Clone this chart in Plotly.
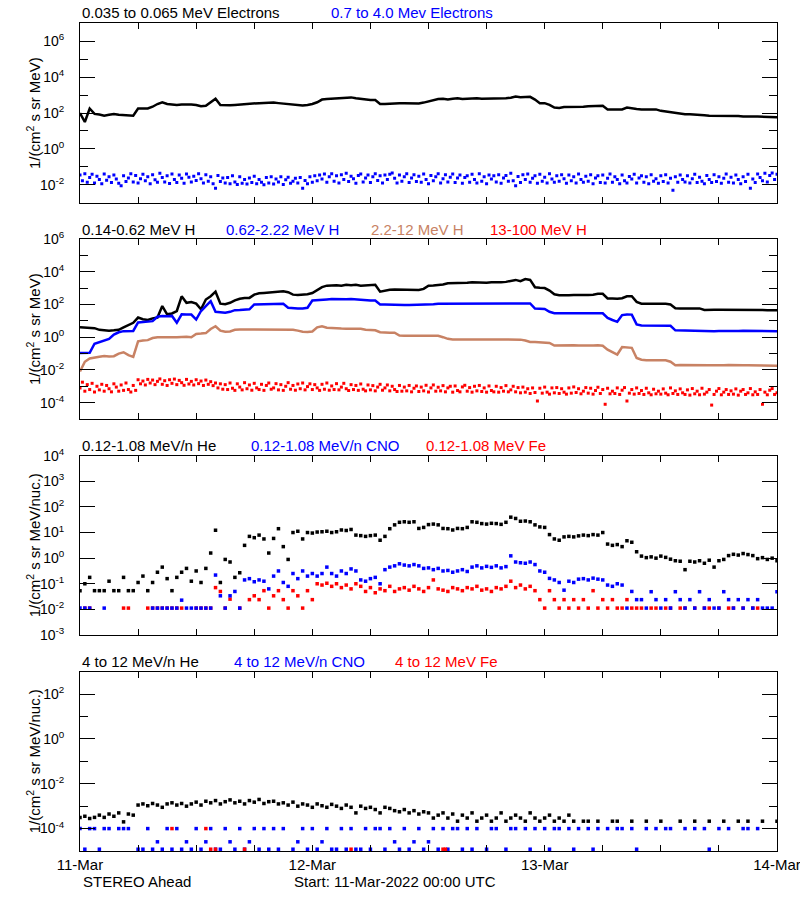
import plotly.graph_objects as go

# ---- time base (hours after 11-Mar-2022 00:00 UTC) ----
hours = [i * 0.5 for i in range(145)]          # 30-minute samples
hours_15 = [i * 0.25 for i in range(289)]      # 15-minute samples
day_hours = [0, 24, 48, 72]
day_labels = ["11-Mar", "12-Mar", "13-Mar", "14-Mar"]

# ---- values, given as log10 of the flux ----
# Panel 1: electrons
e_low_log = [2.0, 1.5, 2.25, 1.95, 1.92, 1.85, 1.9, 1.95, 1.9, 1.88,
             1.85, 1.85, 2.25, 2.27, 2.25, 2.35, 2.5, 2.6, 2.5, 2.48,
             2.45, 2.47, 2.48, 2.48, 2.45, 2.38, 2.4, 2.6, 2.8, 2.45,
             2.43, 2.43, 2.45, 2.47, 2.53, 2.55, 2.55, 2.55, 2.56, 2.58,
             2.58, 2.55, 2.53, 2.5, 2.48, 2.45, 2.42, 2.45, 2.5, 2.6,
             2.75, 2.78, 2.8, 2.82, 2.83, 2.85, 2.87, 2.82, 2.78, 2.75,
             2.73, 2.72, 2.5, 2.5, 2.53, 2.55, 2.55, 2.55, 2.55, 2.55,
             2.53, 2.58, 2.65, 2.72, 2.78, 2.8, 2.75, 2.8, 2.82, 2.78,
             2.8, 2.82, 2.82, 2.8, 2.8, 2.82, 2.8, 2.78, 2.82, 2.85,
             2.92, 2.88, 2.88, 2.9, 2.75, 2.55, 2.55, 2.45, 2.3, 2.28,
             2.33, 2.33, 2.35, 2.33, 2.35, 2.38, 2.38, 2.4, 2.4, 2.2,
             2.2, 2.22, 2.2, 2.3, 2.25, 2.22, 2.2, 2.2, 2.22, 2.2,
             2.12, 2.08, 2.05, 2.0, 1.93, 1.93, 1.93, 1.92, 1.92, 1.88,
             1.85, 1.85, 1.82, 1.82, 1.83, 1.82, 1.83, 1.8, 1.82, 1.8,
             1.8, 1.8, 1.8, 1.78, 1.76]
e_high_log = [-1.45, -1.78, -1.38, -1.86, -1.6, -1.42, -1.9, -1.52, -1.7, -1.94,
              -1.4, -1.75, -1.55, -1.88, -1.46, -1.68, -1.92, -2.05, -1.5, -1.82,
              -1.62, -1.38, -1.85, -1.48, -1.9, -1.66, -1.42, -1.78, -1.56, -1.95,
              -1.44, -1.72, -1.86, -1.36, -1.6, -1.84, -1.5, -1.93, -1.4, -1.7,
              -1.88, -1.46, -1.64, -1.92, -1.4, -1.58, -1.85, -1.52, -1.76, -1.38,
              -1.66, -1.9, -1.44, -1.8, -1.56, -1.94, -2.2, -1.48, -1.82, -1.62,
              -1.9, -1.6, -1.95, -1.5, -1.84, -1.98, -1.56, -1.92, -1.7, -1.96,
              -1.62, -1.88, -1.52, -1.94, -1.7, -1.86, -2.0, -1.6, -1.9, -1.55,
              -1.96, -1.68, -1.84, -1.56, -1.98, -1.72, -1.58, -1.92, -1.8, -1.64,
              -1.9, -1.6, -2.2, -1.76, -1.94, -1.55, -1.86, -1.5, -1.78, -1.46,
              -1.68, -1.4, -1.86, -1.55, -1.38, -1.8, -1.5, -1.9, -1.44, -1.7,
              -1.36, -1.82, -1.52, -1.66, -1.92, -1.48, -1.4, -1.85, -1.62, -1.45,
              -1.88, -1.55, -1.38, -1.76, -1.5, -1.9, -1.46, -1.7, -1.42, -1.35,
              -1.64, -1.9, -1.46, -1.8, -1.55, -1.38, -1.88, -1.62, -1.44, -1.82,
              -1.52, -1.86, -1.4, -1.7, -1.94, -1.48, -1.78, -1.56, -1.38, -1.9,
              -1.66, -1.44, -1.84, -1.58, -1.4, -1.88, -1.62, -1.46, -1.92, -1.6,
              -1.5, -1.86, -1.42, -1.7, -1.9, -1.38, -1.8, -1.55, -1.94, -1.46,
              -1.68, -1.5, -1.84, -1.44, -1.92, -1.62, -1.48, -1.8, -1.36, -1.78,
              -2.05, -1.54, -1.88, -1.44, -1.7, -1.4, -1.86, -1.64, -1.5, -1.92,
              -1.42, -1.8, -1.58, -1.9, -1.38, -1.68, -1.86, -1.5, -1.8, -1.44,
              -1.66, -1.92, -1.46, -1.78, -1.55, -1.9, -1.4, -1.7, -1.86, -1.52,
              -1.8, -1.44, -1.94, -1.62, -1.5, -1.88, -1.46, -1.9, -1.64, -1.4,
              -1.86, -1.56, -1.7, -1.94, -1.46, -1.78, -1.9, -1.54, -1.68, -1.42,
              -1.9, -1.62, -1.5, -1.86, -1.56, -1.94, -1.44, -1.8, -1.66, -1.92,
              -1.5, -1.82, -1.44, -1.9, -1.64, -2.3, -1.55, -1.86, -1.46, -1.7,
              -1.84, -1.5, -1.9, -1.66, -1.42, -1.88, -1.58, -1.8, -1.94, -1.48,
              -1.7, -1.88, -1.44, -1.82, -1.56, -1.92, -1.64, -1.4, -1.86, -1.58,
              -1.9, -1.46, -1.7, -1.94, -1.55, -1.82, -1.42, -2.2, -1.68, -1.88,
              -1.4, -1.6, -1.78, -1.36, -1.84, -1.48, -1.34, -1.7, -1.42]

# Panel 2: protons
h_014_log = [0.6, 0.57, 0.57, 0.55, 0.45, 0.41, 0.4, 0.42, 0.45, 0.6,
             0.75, 0.88, 1.2, 1.1, 1.05, 1.15, 1.2, 1.9, 1.4, 1.45,
             1.6, 2.5, 2.1, 2.15, 2.05, 1.7, 2.3, 2.5, 2.78, 2.05,
             2.02, 2.1, 2.25, 2.35, 2.4, 2.4, 2.6, 2.68, 2.7, 2.72,
             2.75, 2.8, 2.8, 2.75, 2.6, 2.58, 2.6, 2.62, 2.7, 2.9,
             3.06, 3.15, 3.18, 3.18, 3.15, 3.2, 3.18, 3.2, 3.15, 3.18,
             3.2, 3.2, 2.78, 2.85, 2.9, 2.92, 2.92, 2.92, 2.92, 2.92,
             2.88, 2.95, 3.15, 3.16, 3.18, 3.22, 3.3, 3.3, 3.32, 3.33,
             3.33, 3.35, 3.33, 3.35, 3.33, 3.35, 3.33, 3.35, 3.38, 3.45,
             3.5, 3.42, 3.55, 3.5, 3.05, 3.02, 3.0, 2.85, 2.62, 2.57,
             2.55, 2.57, 2.58, 2.57, 2.6, 2.58, 2.6, 2.65, 2.65, 2.37,
             2.37, 2.35, 2.38, 2.5, 2.5, 2.16, 2.05, 2.05, 2.04, 2.04,
             2.03, 2.04, 2.0, 1.77, 1.76, 1.76, 1.76, 1.75, 1.76, 1.66,
             1.65, 1.67, 1.68, 1.68, 1.7, 1.7, 1.68, 1.7, 1.68, 1.67,
             1.66, 1.66, 1.65, 1.65, 1.65]
h_062_log = [-0.96, -0.95, -0.95, -0.4, -0.3, -0.2, -0.1, 0.16, 0.3, 0.37,
             0.37, 0.38, 0.9, 0.92, 0.95, 0.98, 1.25, 1.3, 1.28, 1.3,
             0.88, 1.4, 1.39, 1.38, 1.08, 1.6, 1.9, 2.2, 1.55, 1.52,
             1.5, 1.55, 1.65, 1.66, 1.68, 1.7, 2.0, 2.0, 2.02, 2.0,
             2.02, 2.04, 2.04, 1.8, 1.76, 1.75, 1.76, 1.8, 2.24, 2.25,
             2.3, 2.31, 2.33, 2.32, 2.33, 2.32, 2.34, 2.31, 2.3, 2.25,
             2.24, 2.24, 2.0, 2.0, 1.98, 1.96, 1.96, 1.96, 1.96, 1.97,
             1.96, 1.96, 1.98, 2.02, 2.04, 2.04, 2.06, 2.04, 2.05, 2.04,
             2.05, 2.04, 2.04, 2.03, 2.04, 2.02, 2.04, 2.05, 2.04, 2.06,
             2.04, 2.05, 2.05, 2.06, 1.75, 1.72, 1.72, 1.55, 1.47, 1.47,
             1.46, 1.47, 1.48, 1.47, 1.47, 1.48, 1.47, 1.47, 1.46, 1.18,
             1.05, 0.94, 1.35, 1.39, 1.38, 0.78, 0.72, 0.71, 0.71, 0.71,
             0.72, 0.71, 0.7, 0.42, 0.41, 0.41, 0.41, 0.4, 0.41, 0.38,
             0.37, 0.37, 0.38, 0.37, 0.38, 0.39, 0.38, 0.39, 0.38, 0.38,
             0.38, 0.37, 0.37, 0.37, 0.36]
h_22_log = [-2.1, -1.5, -1.3, -1.27, -1.2, -1.15, -1.18, -1.16, -1.0, -0.92,
            -1.1, -1.2, -0.25, -0.2, -0.18, -0.05, 0.0, 0.0, 0.02, 0.0,
            0.0, 0.02, 0.03, 0.0, 0.2, 0.22, 0.25, 0.5, 0.67, 0.4,
            0.33, 0.35, 0.45, 0.47, 0.47, 0.48, 0.47, 0.46, 0.47, 0.48,
            0.47, 0.45, 0.47, 0.46, 0.45, 0.4, 0.33, 0.32, 0.35, 0.6,
            0.67, 0.58, 0.55, 0.53, 0.53, 0.52, 0.53, 0.54, 0.52, 0.45,
            0.43, 0.42, 0.3, 0.27, 0.27, 0.27, 0.1, 0.08, 0.08, 0.08,
            0.08, 0.07, 0.08, 0.08, 0.08, 0.0, -0.1, -0.14, -0.14, -0.13,
            -0.14, -0.14, -0.15, -0.14, -0.15, -0.14, -0.14, -0.13, -0.14, -0.15,
            -0.14, -0.15, -0.2, -0.29, -0.29, -0.3, -0.3, -0.35, -0.51, -0.5,
            -0.5, -0.51, -0.5, -0.51, -0.52, -0.5, -0.51, -0.5, -0.52, -0.76,
            -0.9, -1.06, -0.6, -0.61, -0.65, -1.27, -1.38, -1.41, -1.4, -1.41,
            -1.42, -1.41, -1.5, -1.71, -1.7, -1.71, -1.72, -1.7, -1.71, -1.72,
            -1.72, -1.71, -1.73, -1.72, -1.7, -1.72, -1.71, -1.72, -1.71, -1.72,
            -1.71, -1.72, -1.72, -1.73, -1.75]
h_13_log = [-3.1, -2.75, -3.3, -2.9, -3.2, -2.82, -3.35, -3.0, -3.22, -2.88,
            -3.3, -2.95, -3.15, -3.34, -2.85, -3.05, -3.3, -2.92, -3.25, -2.8,
            -3.2, -3.35, -2.95, -3.25, -2.6, -2.85, -2.68, -2.92, -2.58, -2.8,
            -2.62, -2.9, -2.7, -2.55, -2.88, -2.66, -2.95, -2.6, -2.82, -2.56,
            -2.9, -2.64, -2.78, -2.94, -2.58, -2.86, -2.7, -2.92, -2.6, -2.84,
            -2.68, -2.95, -2.62, -2.88, -2.72, -2.96, -2.8, -3.1, -2.85, -3.18,
            -2.9, -3.2, -2.8, -3.12, -3.25, -2.85, -3.05, -3.22, -2.78, -3.15,
            -2.92, -3.24, -2.82, -3.1, -3.2, -2.88, -3.25, -2.95, -2.8, -3.18,
            -3.1, -2.84, -3.22, -2.9, -3.25, -3.0, -2.78, -3.18, -2.95, -3.24,
            -2.86, -3.15, -2.8, -3.22, -3.02, -2.85, -3.2, -2.9, -3.1, -3.25,
            -2.88, -3.18, -2.8, -3.24, -2.98, -3.2, -2.84, -3.22, -3.05, -2.82,
            -3.15, -3.26, -2.9, -3.2, -2.95, -3.25, -2.86, -3.18, -3.28, -2.92,
            -3.22, -2.96, -3.28, -3.05, -2.88, -3.24, -3.1, -2.92, -3.28, -3.0,
            -3.2, -3.32, -2.95, -3.3, -3.05, -3.28, -2.95, -3.34, -3.12, -2.98,
            -3.32, -3.05, -3.28, -2.94, -3.35, -3.1, -2.92, -3.3, -3.06, -3.28,
            -2.96, -3.34, -3.1, -3.0, -3.36, -2.98, -3.26, -3.34, -3.04, -2.94,
            -3.3, -3.08, -3.36, -3.0, -3.28, -2.95, -3.32, -3.1, -3.36, -2.98,
            -3.26, -3.34, -3.0, -3.36, -3.08, -3.3, -2.96, -3.34, -3.22, -3.0,
            -3.34, -3.08, -3.4, -3.05, -3.36, -3.15, -3.44, -3.1, -3.38, -3.9,
            -3.12, -3.42, -3.05, -3.36, -3.48, -3.1, -3.4, -3.08, -3.44, -3.15,
            -3.36, -3.48, -3.1, -3.42, -3.04, -3.38, -3.15, -3.46, -3.3, -3.08,
            -3.42, -3.12, -3.48, -3.26, -3.06, -3.44, -3.2, -4.1, -3.12, -3.46,
            -3.3, -3.44, -3.1, -3.5, -3.24, -3.08, -3.9, -3.42, -3.2, -3.48,
            -3.1, -3.44, -3.26, -3.5, -3.12, -3.4, -3.52, -3.18, -3.46, -3.3,
            -3.48, -3.16, -3.42, -3.52, -3.1, -3.44, -3.28, -3.5, -3.16, -3.4,
            -3.5, -3.22, -3.54, -3.14, -3.46, -3.3, -3.52, -3.12, -3.48, -3.36,
            -3.2, -4.15, -3.5, -3.3, -3.14, -3.52, -3.36, -3.2, -3.5, -3.28,
            -3.48, -3.16, -3.54, -3.3, -3.2, -3.5, -3.4, -3.14, -3.52, -3.34,
            -3.5, -3.2, -4.1, -3.36, -3.52, -3.24, -3.14, -3.5, -3.4]

# Panel 3: 0.12-1.08 MeV/n heavy ions
he_low_log = [-1.27, -1.0, -0.75, -1.27, -1.27, -1.27, -0.9, -1.27, -1.27, -0.75,
              -1.27, -1.27, -0.95, -0.7, -1.27, -0.95, -0.55, -0.35, -0.8, -1.27,
              -0.75, -0.55, -0.4, -0.9, -0.5, -0.95, -0.4, 0.2, 1.09, -0.95,
              -0.05, -0.15, -0.75, -0.57, 0.5, 0.85, 0.8, 0.9, 0.75, 0.2,
              0.77, 1.15, 0.45, -0.05, 1.0, 1.05, 0.75, 1.0, 0.98, 1.02,
              1.03, 1.05, 1.0, 1.03, 1.1, 1.08, 1.12, 0.9, 0.88, 0.85,
              0.88, 0.9, 0.7, 0.85, 1.15, 1.3, 1.4, 1.42, 1.4, 1.42,
              1.16, 1.2, 1.31, 1.33, 1.3, 1.16, 1.15, 1.1, 1.16, 1.15,
              1.2, 1.42, 1.4, 1.35, 1.33, 1.36, 1.35, 1.32, 1.4, 1.6,
              1.55, 1.44, 1.45, 1.42, 1.3, 1.22, 1.2, 0.92, 0.75, 0.7,
              0.83, 0.85, 0.83, 0.87, 0.9, 0.88, 0.92, 0.9, 1.0, 0.55,
              0.5, 0.53, 0.45, 0.68, 0.62, 0.25, 0.08, 0.02, 0.05, 0.0,
              0.08, 0.03, -0.04, -0.1, -0.12, -0.45, -0.12, -0.15, -0.1, -0.2,
              -0.08, -0.35, -0.1, -0.05, 0.1, 0.15, 0.12, 0.18, 0.14, 0.1,
              -0.02, 0.02, -0.05, 0.0, -0.1]
cno_low_log = [-1.95, -1.95, -1.95, None, None, -1.95, None, None, None, None,
               None, None, None, None, None, -1.95, -1.95, -1.95, -1.95, -1.95,
               -1.95, -1.64, -1.95, -1.95, -1.95, -1.95, -1.95, -1.95, -0.66, -1.47,
               -1.95, -1.47, -1.3, -1.95, -0.85, -0.8, -0.92, -0.85, -0.9, -1.2,
               -0.7, -0.5, -0.95, -1.1, -0.6, -0.8, -0.5, -0.7, -0.6, -0.7,
               -0.6, -0.35, -0.6, -0.7, -0.5, -0.6, -0.42, -0.5, -0.85, -0.9,
               -0.8, -0.75, -1.0, -0.45, -0.35, -0.3, -0.22, -0.27, -0.3, -0.25,
               -0.3, -0.4, -0.38, -0.45, -0.4, -0.5, -0.48, -0.55, -0.5, -0.45,
               -0.52, -0.35, -0.3, -0.38, -0.32, -0.36, -0.3, -0.38, -0.33, 0.09,
               -0.15, -0.18, -0.2, -0.15, -0.25, -0.5, -0.55, -0.79, -0.85, -0.95,
               -1.25, -0.9, -0.95, -0.82, -0.8, -0.85, -0.78, -0.82, -0.85, -1.05,
               -1.1, -1.0, -1.05, -1.95, -1.3, -1.62, -1.62, -1.95, -1.31, -1.62,
               -1.95, -1.62, -1.95, -1.31, -1.62, -1.95, -1.62, -1.95, -1.31, -1.95,
               -1.62, -1.95, -1.95, -1.31, -1.62, -1.95, -1.62, -1.95, -1.62, -1.95,
               -1.62, -1.95, -1.95, -1.95, -1.31]
fe_low_log = [None, -1.95, -1.95, None, None, None, None, None, None, -1.95,
              -1.95, None, None, None, -1.95, -1.95, -1.95, -1.95, -1.95, -1.95,
              -1.95, -1.95, None, None, -1.95, -1.95, -1.95, -1.95, -1.15, -1.3,
              -1.95, -1.6, None, -1.95, None, -1.62, -1.47, -1.62, -1.27, -1.95,
              -1.47, -1.27, -1.62, -1.95, -1.27, -1.47, -1.95, -1.27, -1.62, -1.0,
              -1.05, -0.98, -1.1, -1.0, -1.15, -1.05, -1.2, -1.0, -1.1, -1.3,
              -1.15, -1.35, -1.2, -1.27, -1.1, -1.3, -1.2, -1.15, -1.25, -1.1,
              -1.2, -1.3, -1.15, -0.85, -1.2, -1.25, -1.3, -1.15, -1.2, -1.27,
              -1.15, -1.2, -1.1, -1.25, -1.2, -1.3, -1.15, -1.2, -1.1, -0.9,
              -1.15, -1.05, -1.2, -1.1, -1.27, -1.62, -1.95, -1.27, -1.62, -1.95,
              -1.62, -1.95, -1.62, -1.95, -1.62, -1.95, -1.27, -1.95, -1.62, -1.95,
              -1.62, -1.95, -1.95, -1.62, -1.95, -1.95, -1.95, None, -1.95, -1.95,
              None, -1.95, -1.95, None, -1.95, -1.95, None, -1.95, None, -1.95,
              -1.95, None, -1.95, None, -1.95, -1.95, None, -1.95, None, -1.95,
              -1.95, None, None, None, None]

# Panel 4: 4-12 MeV/n heavy ions
he_high_log = [-3.5, -3.45, -3.55, -3.5, -3.4, -3.5, -3.35, -3.45, -3.3, -3.7,
               -3.35, -3.4, -2.95, -2.9, -2.98, -2.88, -2.95, -3.05, -2.9, -2.85,
               -2.95, -2.88, -3.0, -2.9, -2.82, -2.95, -2.78, -2.85, -2.75, -2.9,
               -2.8, -2.72, -2.85, -2.78, -2.9, -2.75, -2.82, -2.7, -2.88, -2.8,
               -2.78, -2.9, -2.85, -2.95, -2.82, -3.0, -2.9, -2.95, -3.05, -2.9,
               -2.98, -3.05, -2.92, -3.0, -3.1, -2.95, -3.05, -3.3, -3.0, -3.1,
               -3.05, -3.15, -3.3, -3.05, -3.1, -3.2, -3.25, -3.15, -3.3, -3.2,
               -3.35, -3.25, -3.3, -3.53, -3.4, -3.3, -3.53, -3.35, -3.67, -3.4,
               -3.53, -3.3, -3.67, -3.53, -3.4, -3.67, -3.53, -3.3, -3.67, -3.53,
               -3.4, -3.53, -3.67, -3.3, -3.53, -3.67, -3.53, -3.4, -3.67, -3.53,
               -3.67, -3.4, -3.67, None, -3.67, -3.67, None, -3.67, None, None,
               -3.67, -3.67, None, None, -3.67, None, None, -3.67, None, None,
               -3.67, None, None, None, -3.67, None, None, -3.67, None, None,
               -3.67, None, None, -3.67, None, None, -3.67, None, -3.67, None,
               None, -3.67, None, None, -3.67]
cno_high_log = [-4.0, -4.92, -4.0, -4.0, -4.92, -4.0, -4.0, None, -4.0, -4.0,
                -4.0, None, -4.92, -4.92, -4.0, -4.92, -4.59, -4.92, -4.0, -4.92,
                -4.0, -4.92, -4.59, -4.92, -4.0, -4.92, -4.59, -4.0, -4.92, -4.92,
                -4.0, -4.59, -4.92, -4.0, -4.92, -4.59, -4.0, -4.92, -4.0, -4.92,
                -4.0, -4.92, -4.0, None, -4.92, -4.59, -4.0, -4.92, -4.0, -4.92,
                -4.59, -4.0, -4.92, -4.92, -4.0, -4.92, -4.0, -4.92, -4.92, -4.0,
                -4.92, -4.0, -4.0, -4.92, -4.0, -4.59, -4.92, -4.0, -4.92, -4.59,
                -4.0, -4.92, -4.59, -4.0, -4.92, -4.0, -4.92, -4.0, -4.0, -4.92,
                -4.0, -4.92, -4.0, None, -4.92, -4.0, -4.0, None, -4.92, -4.0,
                -4.0, None, -4.0, -4.92, -4.0, None, -4.0, -4.92, -4.0, -4.0,
                None, -4.0, -4.92, -4.0, None, -4.0, -4.92, -4.0, None, -4.0,
                None, -4.0, -4.0, None, -4.0, -4.92, None, -4.0, None, -4.0,
                None, -4.0, -4.0, None, None, -4.0, None, -4.0, None, -4.0,
                -4.92, None, -4.0, None, -4.0, None, None, -4.0, -4.0, None,
                -4.0, None, None, None, None]
fe_high_hours = [9.5, 13.0, 13.5, 14.0, 17.0, 28.0, 37.5, 37.75]
fe_high_log = [-4.0, -4.0, -4.92, -4.92, -4.92, -4.92, -4.92, -4.92]

for arr in (e_low_log, h_014_log, h_062_log, h_22_log,
            he_low_log, cno_low_log, fe_low_log, he_high_log, cno_high_log):
    assert len(arr) == len(hours), len(arr)
for arr in (e_high_log, h_13_log):
    assert len(arr) == len(hours_15), len(arr)


def flux(logs):
    return [None if v is None else 10 ** v for v in logs]


BLACK, BLUE, TAN, RED = "#000000", "#0000FF", "#C88264", "#FF0000"
FONT = "Liberation Sans"

fig = go.Figure()


def add_points(x, logs, color, axis, size=3.5):
    fig.add_trace(go.Scatter(
        x=x, y=flux(logs), mode="markers", xaxis="x" + axis, yaxis="y" + axis,
        marker=dict(symbol="square", size=size, color=color, line=dict(width=0)),
        hoverinfo="skip", showlegend=False))


def add_line(x, logs, color, axis, width=2.5):
    fig.add_trace(go.Scatter(
        x=x, y=flux(logs), mode="lines", xaxis="x" + axis, yaxis="y" + axis,
        line=dict(color=color, width=width), hoverinfo="skip", showlegend=False))


# panel 1
add_line(hours, e_low_log, BLACK, "")
add_points(hours_15, e_high_log, BLUE, "", size=3)
# panel 2
add_line(hours, h_014_log, BLACK, "2")
add_line(hours, h_062_log, BLUE, "2")
add_line(hours, h_22_log, TAN, "2")
add_points(hours_15, h_13_log, RED, "2", size=3)
# panel 3
add_points(hours, fe_low_log, RED, "3")
add_points(hours, cno_low_log, BLUE, "3")
add_points(hours, he_low_log, BLACK, "3")
# panel 4
add_points(hours, he_high_log, BLACK, "4")
add_points(hours, cno_high_log, BLUE, "4")
add_points(fe_high_hours, fe_high_log, RED, "4")

# ---- geometry (page pixels) ----
FIG_W, FIG_H = 800, 900
PLOT_L, PLOT_R, PLOT_T, PLOT_B = 80, 777, 23, 851
H = PLOT_B - PLOT_T
W = PLOT_R - PLOT_L


def frac(ypx):
    return (PLOT_B - ypx) / H


def xp(px):
    return (px - PLOT_L) / W


panel_px = [(23.3, 202.7), (239, 419), (455.7, 635), (671.7, 851)]
y_ranges = [(-3, 7), (-5, 6), (-3, 4), (-5, 3)]
y_major = [[-2, 0, 2, 4, 6], [-4, -2, 0, 2, 4, 6],
           [-3, -2, -1, 0, 1, 2, 3, 4], [-4, -2, 0, 2]]
y_minor = [[-1, 1, 3, 5], [-3, -1, 1, 3, 5], [], [-3, -1, 1]]


def sup(p):
    return "10<sup>%d</sup>" % p


layout = dict(
    width=FIG_W, height=FIG_H, paper_bgcolor="white", plot_bgcolor="white",
    margin=dict(l=PLOT_L, r=FIG_W - PLOT_R, t=PLOT_T, b=FIG_H - PLOT_B, pad=0),
    font=dict(family=FONT, size=15, color="black"), showlegend=False,
)
for k in range(4):
    sfx = "" if k == 0 else str(k + 1)
    top, bot = panel_px[k]
    layout["xaxis" + sfx] = dict(
        domain=[0, 1], anchor="y" + sfx, range=[0, 72], showgrid=False, zeroline=False,
        showline=True, linecolor="black", linewidth=1, mirror="allticks",
        ticks="inside", ticklen=6, tickcolor="black",
        tickvals=day_hours, ticktext=day_labels,
        minor=dict(dtick=6, tick0=0, ticks="inside", ticklen=6, tickcolor="black",
                   showgrid=False),
        showticklabels=(k == 3), tickfont=dict(family=FONT, size=15),
        ticklabeloverflow="allow", automargin=False,
    )
    yd = dict(
        domain=[max(frac(bot), 0), min(frac(top), 1)], anchor="x" + sfx, type="log",
        range=list(y_ranges[k]), showgrid=False, zeroline=False,
        showline=True, linecolor="black", linewidth=1, mirror="allticks",
        ticks="inside", ticklen=15, tickcolor="black",
        tickvals=[10 ** p for p in y_major[k]], ticktext=[sup(p) for p in y_major[k]],
        tickfont=dict(family=FONT, size=14), ticklabelstandoff=12, automargin=False,
    )
    if y_minor[k]:
        yd["minor"] = dict(tickvals=[10 ** p for p in y_minor[k]], ticks="inside",
                           ticklen=8, tickcolor="black", showgrid=False)
    layout["yaxis" + sfx] = yd

fig.update_layout(**layout)

# ---- text ----
titles = [
    (13, [("0.035 to 0.065 MeV Electrons", 80, BLACK), ("0.7 to 4.0 Mev Electrons", 329, BLUE)]),
    (229, [("0.14-0.62 MeV H", 80, BLACK), ("0.62-2.22 MeV H", 224, BLUE),
           ("2.2-12 MeV H", 369, TAN), ("13-100 MeV H", 488, RED)]),
    (445.7, [("0.12-1.08 MeV/n He", 80, BLACK), ("0.12-1.08 MeV/n CNO", 249, BLUE),
             ("0.12-1.08 MeV Fe", 424, RED)]),
    (661.7, [("4 to 12 MeV/n He", 80, BLACK), ("4 to 12 MeV/n CNO", 232, BLUE),
             ("4 to 12 MeV Fe", 393, RED)]),
]
for ypx, items in titles:
    for txt, xpx, col in items:
        fig.add_annotation(text=txt, x=xp(xpx), y=frac(ypx), xref="paper", yref="paper",
                           xanchor="left", yanchor="middle", showarrow=False,
                           font=dict(family=FONT, size=15, color=col))

y_titles = ["1/(cm<sup>2</sup> s sr MeV)", "1/(cm<sup>2</sup> s sr MeV)",
            "1/(cm<sup>2</sup> s sr MeV/nuc.)", "1/(cm<sup>2</sup> s sr MeV/nuc.)"]
for k in range(4):
    top, bot = panel_px[k]
    fig.add_annotation(text=y_titles[k], x=xp(33), y=frac((top + bot) / 2),
                       xref="paper", yref="paper", xanchor="center", yanchor="middle",
                       textangle=-90, showarrow=False, font=dict(family=FONT, size=15))

fig.add_annotation(text="STEREO Ahead", x=xp(81), y=frac(881), xref="paper", yref="paper",
                   xanchor="left", yanchor="middle", showarrow=False,
                   font=dict(family=FONT, size=15))
fig.add_annotation(text="Start: 11-Mar-2022 00:00 UTC", x=xp(292), y=frac(881),
                   xref="paper", yref="paper", xanchor="left", yanchor="middle",
                   showarrow=False, font=dict(family=FONT, size=15))

# remove the default 8 px page margin so the figure fills the 800x900 window
fig.write_html("out.html", config={"displayModeBar": False},
               post_script="document.body.style.margin='0';")
